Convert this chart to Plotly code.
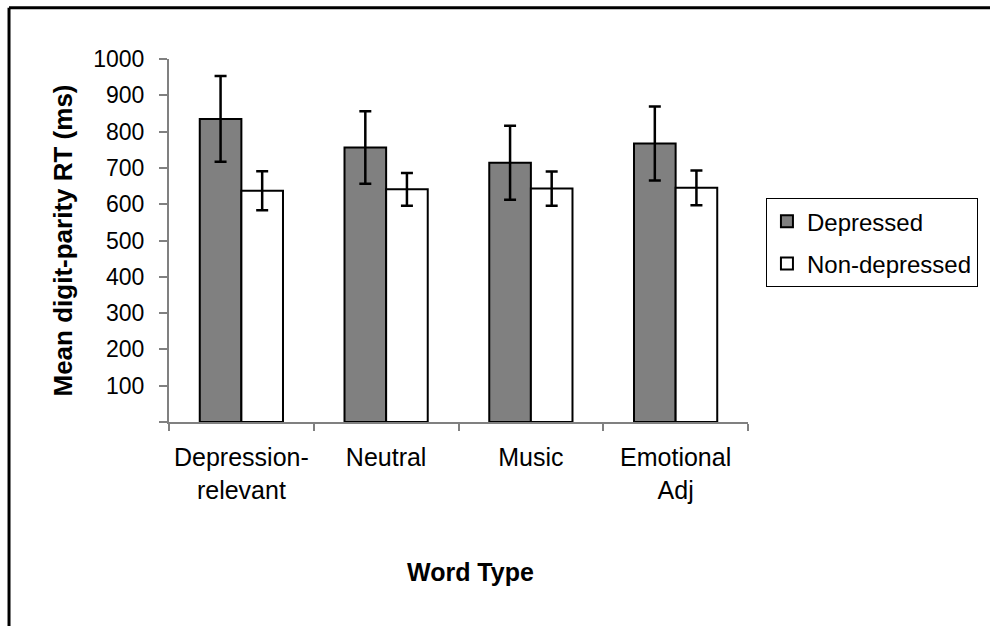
import plotly.graph_objects as go

categories = ["Depression-<br>relevant", "Neutral", "Music", "Emotional<br>Adj"]
depressed = [835, 756, 714, 767]
depressed_err = [118, 100, 102, 102]
nondepressed = [637, 641, 643, 645]
nondepressed_err = [54, 45, 47, 48]
y_ticks = [0, 100, 200, 300, 400, 500, 600, 700, 800, 900, 1000]
y_ticktext = [""] + [str(v) for v in y_ticks[1:]]

FONT = "Liberation Sans, Arial, sans-serif"

fig = go.Figure()
fig.add_trace(go.Bar(
    name="Depressed", x=categories, y=depressed, legendgroup="dep",
    marker=dict(color="#808080", line=dict(color="black", width=2)),
    error_y=dict(type="data", array=depressed_err, color="black", thickness=2.5, width=6),
))
fig.add_trace(go.Bar(
    name="Non-depressed", x=categories, y=nondepressed, legendgroup="non",
    marker=dict(color="white", line=dict(color="black", width=2)),
    error_y=dict(type="data", array=nondepressed_err, color="black", thickness=2.5, width=6),
))

fig.update_layout(
    width=990, height=626,
    margin=dict(l=169, r=242, t=59, b=204, autoexpand=False),
    paper_bgcolor="white", plot_bgcolor="white",
    barmode="group", bargap=0.425, bargroupgap=0,
    font=dict(family=FONT, color="black", size=23),
    showlegend=True,
    legend=dict(
        x=1.031, xanchor="left", y=0.494, yanchor="middle",
        bordercolor="black", borderwidth=1, bgcolor="white",
        font=dict(family=FONT, size=24, color="black"),
        itemwidth=30, tracegroupgap=8,
    ),
    xaxis=dict(
        showline=True, linecolor="#808080", linewidth=2,
        ticks="outside", tickson="boundaries", ticklen=7, tickcolor="#808080", tickwidth=1.5,
        tickfont=dict(family=FONT, size=25, color="black"),
        ticklabelstandoff=12,
        showgrid=False, zeroline=False,
    ),
    yaxis=dict(
        range=[0, 1000], showline=True, linecolor="#808080", linewidth=2,
        tickvals=y_ticks, ticktext=y_ticktext,
        ticks="outside", ticklen=8, tickcolor="#808080", tickwidth=1.5,
        tickfont=dict(family=FONT, size=23, color="black"),
        ticklabelstandoff=10,
        showgrid=False, zeroline=False,
    ),
    annotations=[
        dict(text="<b>Mean digit-parity RT (ms)</b>", xref="paper", yref="paper",
             x=-0.1848, y=0.5, textangle=-90, showarrow=False,
             font=dict(family=FONT, size=26, color="black"),
             xanchor="center", yanchor="middle"),
        dict(text="<b>Word Type</b>", xref="paper", yref="paper",
             x=0.5199, y=-0.413, showarrow=False,
             font=dict(family=FONT, size=25, color="black"),
             xanchor="center", yanchor="middle"),
    ],
    shapes=[
        dict(type="line", xref="paper", yref="paper", x0=-0.2763, x1=-0.2763, y0=1.141, y1=-1.0,
             line=dict(color="black", width=3)),
        dict(type="line", xref="paper", yref="paper", x0=-0.2763, x1=1.5, y0=1.141, y1=1.141,
             line=dict(color="black", width=3)),
    ],
)

fig.write_html("out.html", config={"displayModeBar": False},
               post_script="document.body.style.margin='0';")
